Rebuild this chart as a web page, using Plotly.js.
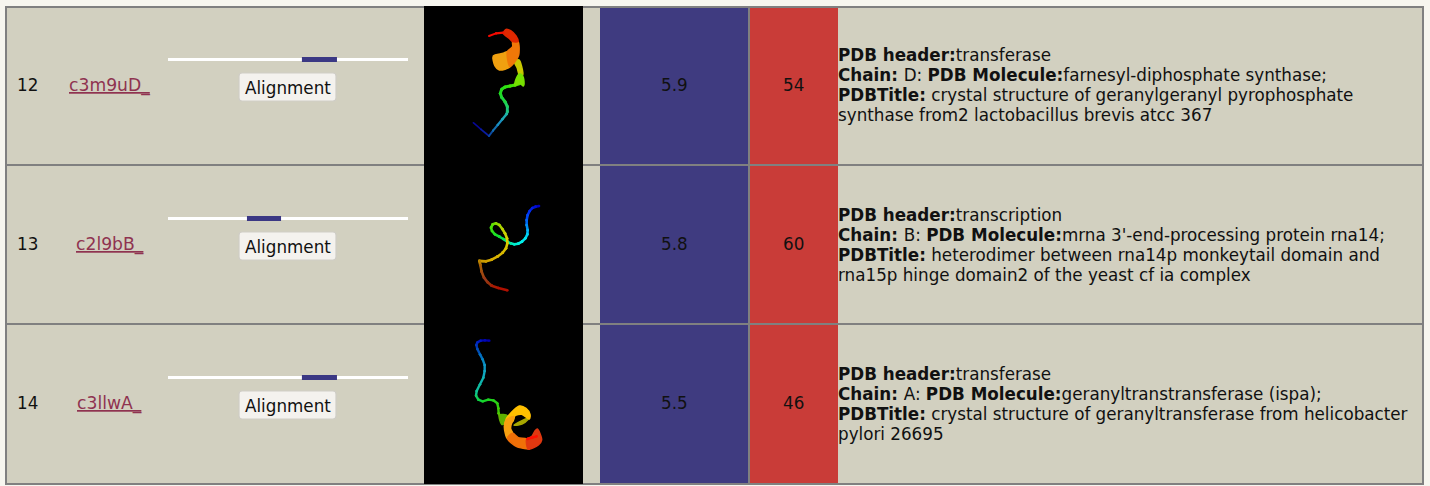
<!DOCTYPE html>
<html>
<head>
<meta charset="utf-8">
<script src="https://cdn.plot.ly/plotly-3.0.1.min.js"></script>
<style>html,body{margin:0;padding:0;background:#f7f6ef}#chart{width:1430px;height:486px}#chart .scatterlayer{filter:blur(0.55px)}</style>
</head>
<body>
<div id="chart"></div>
<script>
// ---- table values ----
const ranks = ["12", "13", "14"];
const templates = ["c3m9uD_", "c2l9bB_", "c3llwA_"];
const confidence = ["5.9", "5.8", "5.5"];
const identity = ["54", "60", "46"];
const alignStartPct = [55.8, 32.9, 55.8];
const alignEndPct = [70.4, 47.1, 70.4];
const buttonLabel = "Alignment";
const descriptions = [
  ["<b>PDB header:</b>transferase",
   "<b>Chain: </b>D: <b>PDB Molecule:</b>farnesyl-diphosphate synthase;",
   "<b>PDBTitle:</b> crystal structure of geranylgeranyl pyrophosphate",
   "synthase from2 lactobacillus brevis atcc 367"],
  ["<b>PDB header:</b>transcription",
   "<b>Chain: </b>B: <b>PDB Molecule:</b>mrna 3'-end-processing protein rna14;",
   "<b>PDBTitle:</b> heterodimer between rna14p monkeytail domain and",
   "rna15p hinge domain2 of the yeast cf ia complex"],
  ["<b>PDB header:</b>transferase",
   "<b>Chain: </b>A: <b>PDB Molecule:</b>geranyltranstransferase (ispa);",
   "<b>PDBTitle:</b> crystal structure of geranyltransferase from helicobacter",
   "pylori 26695"]
];

// ---- structure thumbnails (x, y in 1/3 px of the panel) ----
const tube12X = [160,183,207,219,233,247,260,262,262,255,245,241,245,255,270,285,300];
const tube12Y = [368,388,408,392,375,358,342,335,320,305,292,280,268,261,258,255,250];
const tube12C = ["#08089a","#0a1ca0","#0a4aa0","#1470b0","#1a90c0","#1ea8b0","#20b8a0","#20c480","#20d060","#20d440","#20d830","#20dc20","#28de18","#30e010","#44e008","#5ce004","#70e000"];
const tube12W = [1.5,1.5,2,2,2.2,2.4,2.6,2.8,3,3,3,3,3,3,3,3.2,3.5];

const tube13X = [357,347,337,329,323,320,320,323,322,316,306,295,283,272,262,250,238,225,216,213,218,228,238,247,255,261,262,258,248,232,215,198,178,181,185,192,203,215,235,262];
const tube13Y = [123,125,129,138,150,165,180,195,208,220,230,236,238,235,230,222,215,208,198,188,178,175,180,192,205,220,235,250,263,275,284,289,288,300,320,338,352,362,369,376];
const tube13C = ["#0000c0","#0010d0","#0020e0","#0030f0","#0048f4","#0068f4","#0090f4","#00b4f4","#00d0f0","#00e4ec","#00f0e8","#00f0d8","#00ecc8","#00e8a0","#00e478","#08e050","#14e030","#24e020","#38e010","#4ce008","#68dc00","#88d800","#a8d400","#bcd000","#ccd000","#d8d000","#d8c800","#d8c000","#d8b800","#d8b000","#d4a800","#cc9c00","#b88000","#a85c08","#a04810","#983818","#98300c","#a81c04","#b01000","#a00000"];
const tube13W = [2.6,2.6,2.6,2.6,2.6,2.6,2.6,2.6,2.6,2.6,2.6,2.6,2.6,2.6,2.6,2.6,2.6,2.6,2.6,2.6,2.6,2.6,2.6,2.6,2.6,2.6,2.6,2.6,2.6,2.6,2.6,2.6,3,2.6,2.6,2.6,2.6,2.6,2.6,2.6];

const tube14X = [208,195,182,172,169,172,180,188,194,194,190,180,170,168,175,188,205,220,232,235,236,243];
const tube14Y = [47,46,47,52,60,72,88,103,120,138,158,178,198,212,224,229,224,226,235,250,265,280];
const tube14C = ["#0000b0","#0008b8","#0018c0","#0028c0","#0038b8","#0050b8","#0070c0","#0888c0","#1098c4","#10a8c0","#10b4b0","#10bca0","#10c490","#10cc60","#10d440","#18d428","#20d420","#28d418","#30d010","#40cc08","#50c800","#60c000"];
const tube14W = [2.4,2.4,2.4,2.4,2.4,2.4,2.4,2.4,2.4,2.4,2.4,2.4,2.4,2.4,2.4,2.4,2.4,2.4,2.4,2.4,2.4,2.6];

const bands12 = [
  {x:[283,297,305,308,298,292], y:[183,180,200,225,225,205], c:"#c8c800"},
  {x:[288,298,306,312,310,300,285], y:[238,222,225,245,258,250,255], c:"#78e000"},
  {x:[220,250,262,270,238,225], y:[168,160,155,200,210,198], c:"#f0a010"},
  {x:[262,278,278,294,296,285,270], y:[155,140,125,125,165,185,200], c:"#f07808"},
  {x:[250,258,272,288,294,278,268], y:[100,88,92,108,125,125,115], c:"#e02800"}
];
const tail12X = [250,228,207];
const tail12Y = [98,100,108];
const tail12C = ["#f01000","#f80800","#f80000"];
const tail12W = [2.6,2.2,1.8];

const bands14 = [
  {x:[238,262,255,245], y:[270,272,295,298], c:"#60b000"},
  {x:[282,328,315,295], y:[300,278,292,300], c:"#a8a800"},
  {x:[258,298,318,330,328,305,285,278], y:[285,243,250,268,282,268,272,290], c:"#ffc000"},
  {x:[258,282,273,272,278,262,253], y:[285,275,300,312,325,340,305], c:"#f8a010"},
  {x:[262,278,295,320,328,325,290], y:[340,325,338,342,372,372,365], c:"#f07008"},
  {x:[320,335,345,352,365,355,325], y:[342,335,318,312,345,360,372], c:"#e03810"}
];
const tail14X = [322,336,350];
const tail14Y = [342,338,334];
const tail14C = ["#ff1000","#ff1000","#ff1000"];
const tail14W = [2.5,2.5,2.5];

// ---- layout constants ----
const rowTops = [7, 166, 325];
const textShift = [-1, 0, 0];
const rowH = 159;
const cellBg = "#d2d0c0", gridCol = "#808080", blue = "#3f3b80", red = "#c93c38", navy = "#3b3884";
const txt = "#111111", link = "#8f3350";
const font = "DejaVu Sans, sans-serif";

const shapes = [];
const annotations = [];
const rect = (x0, y0, x1, y1, fill) => shapes.push({type:"rect", layer:"below", x0, y0, x1, y1, fillcolor:fill, line:{width:0}});
const label = (x, y, text, anchor, color, size) => annotations.push({x, y, text, xref:"x", yref:"y", xanchor:anchor, yanchor:"middle", showarrow:false, align:anchor, borderpad:0, font:{family:font, size:size||16.75, color:color||txt}});

// frame + cell fill
rect(5, 6, 1424, 485, gridCol);
rect(7, 8, 1422, 483, cellBg);

const trackL = 168, trackR = 408;
ranks.forEach((r, i) => {
  const t = rowTops[i], b = t + rowH;
  if (i > 0) rect(7, t - 2, 1422, t, gridCol);
  rect(600, t + (i ? 0 : 1), 748, b - 2 + (i === 2 ? 1 : 0), blue);
  rect(750, t + (i ? 0 : 1), 838, b - 2 + (i === 2 ? 1 : 0), red);
  rect(748, t + (i ? 0 : 1), 750, b - 2 + (i === 2 ? 1 : 0), gridCol);
  // alignment track
  rect(trackL, t + 51, trackR, t + 54, "#ffffff");
  const sx = trackL + (trackR - trackL) * alignStartPct[i] / 100;
  const ex = trackL + (trackR - trackL) * alignEndPct[i] / 100;
  rect(sx, t + 50, ex, t + 55, navy);
  // button
  const bx0 = 239, bx1 = 336, by0 = t + 66, by1 = t + 94, c = 3;
  shapes.push({type:"path", layer:"below",
    path:`M${bx0+c},${by0} L${bx1-c},${by0} Q${bx1},${by0} ${bx1},${by0+c} L${bx1},${by1-c} Q${bx1},${by1} ${bx1-c},${by1} L${bx0+c},${by1} Q${bx0},${by1} ${bx0},${by1-c} L${bx0},${by0+c} Q${bx0},${by0} ${bx0+c},${by0} Z`,
    fillcolor:"#f4f2ee", line:{color:"#cfcdc6", width:1.2}});
  label(287.5, t + 81, buttonLabel, "center");
  label(15.5, t + 78, r, "left");
  label(109.5, t + 78, "<u>" + templates[i] + "</u>", "center", link, 17.2);
  label(674.5, t + 78, confidence[i], "center");
  label(793, t + 78, identity[i], "center");
  descriptions[i].forEach((ln, k) => label(837, t + 49 + textShift[i] + 20 * k, ln, "left"));
});
// image column
rect(424, 6, 583, 484, "#000000");

// ---- ribbons ----
const traces = [];
const rowOffset = [0, 165, 325];
function tube(xs, ys, cs, ws, rowIdx) {
  const ox = 420, oy = rowOffset[rowIdx];
  for (let k = 0; k < xs.length - 1; k++) {
    const w = (ws[k] + ws[k + 1]) / 2;
    traces.push({type:"scatter", mode:"lines+markers", hoverinfo:"skip", showlegend:false,
      x:[ox + xs[k] / 3, ox + xs[k + 1] / 3], y:[oy + ys[k] / 3, oy + ys[k + 1] / 3],
      line:{color:cs[k], width:w}, marker:{color:cs[k], size:w, line:{width:0}}});
  }
}
function bands(list, rowIdx) {
  const ox = 420, oy = rowOffset[rowIdx];
  list.forEach(p => traces.push({type:"scatter", mode:"lines", fill:"toself", hoverinfo:"skip", showlegend:false,
    x:p.x.concat(p.x[0]).map(v => ox + v / 3), y:p.y.concat(p.y[0]).map(v => oy + v / 3),
    fillcolor:p.c, line:{color:p.c, width:1.5, shape:"spline", smoothing:0.8}}));
}
tube(tube12X, tube12Y, tube12C, tube12W, 0);
bands(bands12, 0);
tube(tail12X, tail12Y, tail12C, tail12W, 0);
tube(tube13X, tube13Y, tube13C, tube13W, 1);
tube(tube14X, tube14Y, tube14C, tube14W, 2);
bands(bands14, 2);
tube(tail14X, tail14Y, tail14C, tail14W, 2);

Plotly.newPlot("chart", traces, {
  width:1430, height:486,
  margin:{l:0, r:0, t:0, b:0},
  paper_bgcolor:"#f7f6ef", plot_bgcolor:"#f7f6ef",
  xaxis:{range:[0,1430], visible:false, fixedrange:true},
  yaxis:{range:[486,0], visible:false, fixedrange:true},
  shapes, annotations, showlegend:false
}, {displayModeBar:false, staticPlot:true});
</script>
</body>
</html>
